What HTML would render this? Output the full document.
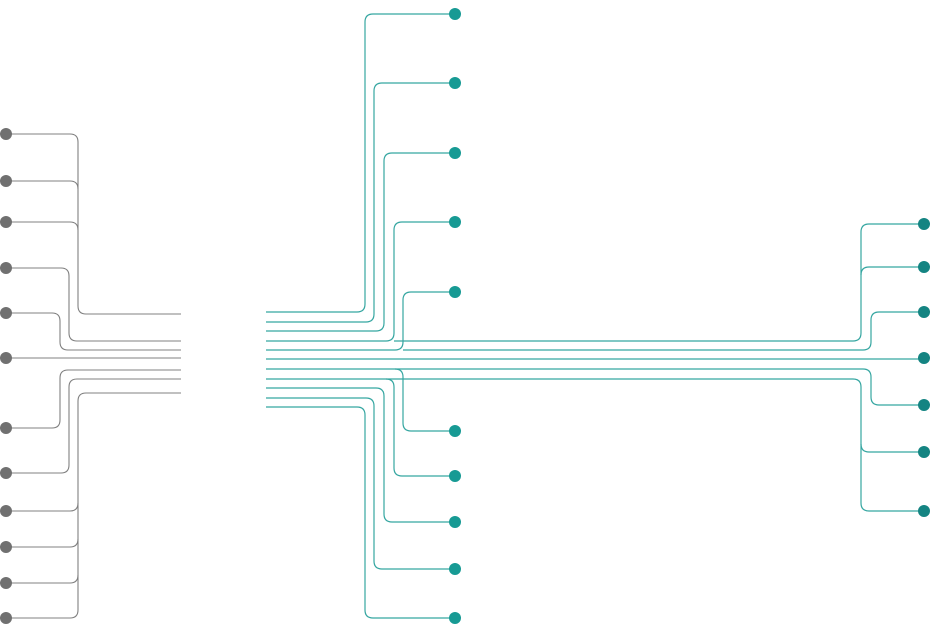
<!DOCTYPE html>
<html><head><meta charset="utf-8"><style>html,body{margin:0;padding:0;background:#fff}svg{display:block}</style></head>
<body>
<svg width="930" height="626" viewBox="0 0 930 626" xmlns="http://www.w3.org/2000/svg" fill="none" stroke-width="1.2">
<g stroke="#808080" stroke-width="1.1">
<path d="M6 134 H70 Q78 134 78 142 V306 Q78 314 86 314 H181"/>
<path d="M6 181 H70 Q78 181 78 189"/>
<path d="M6 222 H70 Q78 222 78 230"/>
<path d="M6 268 H61 Q69 268 69 276 V333 Q69 341 77 341 H181"/>
<path d="M6 313 H52 Q60 313 60 321 V342 Q60 350 68 350 H181"/>
<path d="M6 358 H181"/>
<path d="M181 370 H68 Q60 370 60 378 V420 Q60 428 52 428 H6"/>
<path d="M181 379 H77 Q69 379 69 387 V465 Q69 473 61 473 H6"/>
<path d="M181 393 H86 Q78 393 78 401 V610 Q78 618 70 618 H6"/>
<path d="M78 503 Q78 511 70 511 H6"/>
<path d="M78 539 Q78 547 70 547 H6"/>
<path d="M78 575 Q78 583 70 583 H6"/>
</g>
<g fill="#707070">
<circle cx="6" cy="134" r="6"/><circle cx="6" cy="181" r="6"/><circle cx="6" cy="222" r="6"/><circle cx="6" cy="268" r="6"/><circle cx="6" cy="313" r="6"/><circle cx="6" cy="358" r="6"/><circle cx="6" cy="428" r="6"/><circle cx="6" cy="473" r="6"/><circle cx="6" cy="511" r="6"/><circle cx="6" cy="547" r="6"/><circle cx="6" cy="583" r="6"/><circle cx="6" cy="618" r="6"/>
</g>
<g stroke="#35a6a1">
<path d="M266 312 H357 Q365 312 365 304 V22 Q365 14 373 14 H455"/>
<path d="M266 322 H366 Q374 322 374 314 V91 Q374 83 382 83 H455"/>
<path d="M266 331 H376 Q384 331 384 323 V161 Q384 153 392 153 H455"/>
<path d="M266 341 H386 Q394 341 394 333 V230 Q394 222 402 222 H455"/>
<path d="M266 350 H395 Q403 350 403 342 V300 Q403 292 411 292 H455"/>
<path d="M394 341 H853 Q861 341 861 333 V232 Q861 224 869 224 H924"/>
<path d="M861 275 Q861 267 869 267 H924"/>
<path d="M403 350 H863 Q871 350 871 342 V320 Q871 312 879 312 H924"/>
<path d="M266 359 H924"/>
<path d="M266 369 H863 Q871 369 871 377 V397 Q871 405 879 405 H924"/>
<path d="M395 369 Q403 369 403 377 V423 Q403 431 411 431 H455"/>
<path d="M266 379 H853 Q861 379 861 387 V503 Q861 511 869 511 H924"/>
<path d="M861 444 Q861 452 869 452 H924"/>
<path d="M386 379 Q394 379 394 387 V468 Q394 476 402 476 H455"/>
<path d="M266 388 H376 Q384 388 384 396 V514 Q384 522 392 522 H455"/>
<path d="M266 398 H366 Q374 398 374 406 V561 Q374 569 382 569 H455"/>
<path d="M266 407 H357 Q365 407 365 415 V610 Q365 618 373 618 H455"/>
</g>
<g fill="#179a94">
<circle cx="455" cy="14" r="6"/><circle cx="455" cy="83" r="6"/><circle cx="455" cy="153" r="6"/><circle cx="455" cy="222" r="6"/><circle cx="455" cy="292" r="6"/><circle cx="455" cy="431" r="6"/><circle cx="455" cy="476" r="6"/><circle cx="455" cy="522" r="6"/><circle cx="455" cy="569" r="6"/><circle cx="455" cy="618" r="6"/>
</g>
<g fill="#148482">
<circle cx="924" cy="224" r="6"/><circle cx="924" cy="267" r="6"/><circle cx="924" cy="312" r="6"/><circle cx="924" cy="358" r="6"/><circle cx="924" cy="405" r="6"/><circle cx="924" cy="452" r="6"/><circle cx="924" cy="511" r="6"/>
</g>
</svg>
</body></html>
